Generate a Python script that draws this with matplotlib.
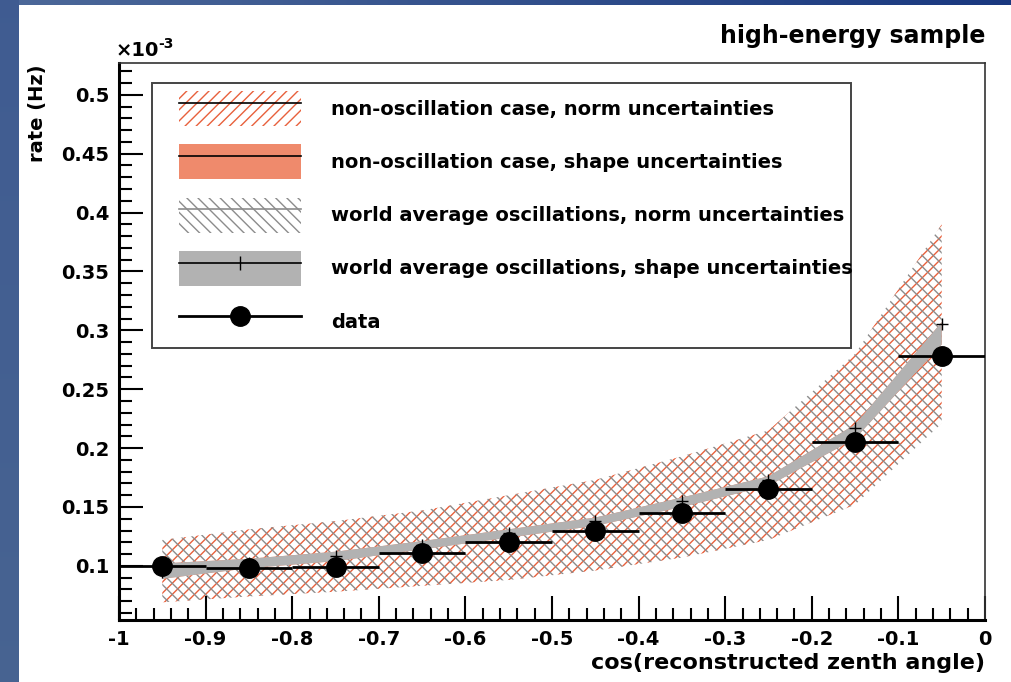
import numpy as np
import matplotlib
matplotlib.use("Agg")
import matplotlib.pyplot as plt
from matplotlib.patches import Patch, Rectangle
from matplotlib.lines import Line2D
from matplotlib.ticker import MultipleLocator

plt.rcParams['font.family'] = ['DejaVu Sans']
plt.rcParams['font.weight'] = 'bold'
plt.rcParams['hatch.linewidth'] = 1.0

# cos(zenith) bins, rates in units of 1e-3 Hz
bin_centers = [-0.95, -0.85, -0.75, -0.65, -0.55, -0.45, -0.35, -0.25, -0.15, -0.05]
bin_width = 0.1
data_rate = [0.100, 0.098, 0.099, 0.111, 0.120, 0.130, 0.145, 0.165, 0.205, 0.278]
data_err = [0.004, 0.004, 0.004, 0.004, 0.004, 0.004, 0.004, 0.005, 0.006, 0.007]

# expectation (world average oscillations) and its uncertainty bands
pred_rate = [0.095, 0.1025, 0.108, 0.118, 0.128, 0.138, 0.155, 0.173, 0.217, 0.305]
shape_hi = [0.102, 0.106, 0.112, 0.121, 0.131, 0.141, 0.158, 0.176, 0.220, 0.307]
shape_lo = [0.089, 0.098, 0.104, 0.114, 0.124, 0.134, 0.150, 0.168, 0.208, 0.288]
norm_hi = [0.122, 0.131, 0.138, 0.147, 0.160, 0.173, 0.193, 0.215, 0.280, 0.390]
norm_lo = [0.069, 0.074, 0.078, 0.083, 0.088, 0.096, 0.107, 0.122, 0.152, 0.221]

ORANGE = '#e8603c'
ORANGE_FILL = '#ef8a6c'
GRAY = '#8c8c8c'
GRAY_FILL = '#b2b2b2'

W, H = 1012, 682
fig = plt.figure(figsize=(W / 100, H / 100), dpi=100)

# slide-style background: blue frame on the left and top
bg = np.ones((H, W, 3))
xs = np.linspace(0, 1, W)[None, :, None]
top_left = np.array([0.30, 0.41, 0.60])
top_right = np.array([0.10, 0.22, 0.50])
bg[:5] = top_left + (top_right - top_left) * xs
ys = np.linspace(0, 1, H)[:, None, None]
side_top = np.array([0.25, 0.36, 0.57])
side_bot = np.array([0.28, 0.39, 0.57])
bg[:, :19] = side_top + (side_bot - side_top) * ys
bg_ax = fig.add_axes([0, 0, 1, 1], zorder=-10)
bg_ax.imshow(bg, aspect='auto', interpolation='bilinear')
bg_ax.axis('off')

ax = fig.add_axes([119 / W, 1 - 620 / H, (985 - 119) / W, (620 - 63) / H])
ax.set_xlim(-1, 0)
ax.set_ylim(0.054, 0.527)

# norm uncertainty bands (both hypotheses)
ax.fill_between(bin_centers, norm_lo, norm_hi, facecolor='none', edgecolor=ORANGE,
                hatch='///', linewidth=0, zorder=1)
ax.fill_between(bin_centers, norm_lo, norm_hi, facecolor='none', edgecolor=GRAY,
                hatch='\\\\\\', linewidth=0, zorder=1)
# shape uncertainty bands
ax.fill_between(bin_centers, shape_lo, shape_hi, facecolor=ORANGE_FILL, linewidth=0, zorder=2)
ax.fill_between(bin_centers, shape_lo, shape_hi, facecolor=GRAY_FILL, linewidth=0, zorder=3)
ax.plot(bin_centers, pred_rate, linestyle='none', marker='+', ms=9, mew=1.0,
        color='black', zorder=4)

ax.errorbar(bin_centers, data_rate, xerr=bin_width / 2, yerr=data_err, fmt='o',
            color='black', ms=14, elinewidth=2, capsize=0, zorder=5)

# ROOT-like axes
ax.xaxis.set_minor_locator(MultipleLocator(0.02))
ax.yaxis.set_minor_locator(MultipleLocator(0.01))
ax.tick_params(which='both', direction='in', top=False, right=False, width=1.5,
               labelsize=14, colors='black')
ax.tick_params(which='major', length=17, pad=7)
ax.tick_params(which='minor', length=9)
ax.set_xticks(np.arange(-1, 0.01, 0.1))
ax.set_xticklabels(['-1', '-0.9', '-0.8', '-0.7', '-0.6', '-0.5', '-0.4', '-0.3', '-0.2', '-0.1', '0'])
ax.set_yticks([0.1, 0.15, 0.2, 0.25, 0.3, 0.35, 0.4, 0.45, 0.5])
ax.set_yticklabels(['0.1', '0.15', '0.2', '0.25', '0.3', '0.35', '0.4', '0.45', '0.5'])
for tl in ax.get_xticklabels() + ax.get_yticklabels():
    tl.set_fontweight('bold')
ax.spines['left'].set_linewidth(2.2)
ax.spines['bottom'].set_linewidth(2.2)
ax.spines['top'].set_linewidth(1.2)
ax.spines['right'].set_linewidth(1.2)
ax.spines['top'].set_color('#333333')
ax.spines['right'].set_color('#333333')

fig.text(985 / W, 1 - 663 / H, 'cos(reconstructed zenth angle)', ha='right', va='center',
         fontsize=16, fontweight='bold')
fig.text(38 / W, 1 - 64 / H, 'rate (Hz)', ha='center', va='top', rotation=90,
         fontsize=14, fontweight='bold')
fig.text(116 / W, 1 - 50 / H, '\u00d710', ha='left', va='center', fontsize=14, fontweight='bold')
fig.text(158 / W, 1 - 44 / H, '-3', ha='left', va='center', fontsize=10, fontweight='bold')
fig.text(985 / W, 1 - 36 / H, 'high-energy sample', ha='right', va='center',
         fontsize=17, fontweight='bold')

# legend box
ax.add_patch(Rectangle((0.0381, 0.488), 0.845 - 0.0381, 0.964 - 0.488, transform=ax.transAxes,
                       facecolor='white', edgecolor='#444444', linewidth=1.4, zorder=6))
handles = [
    (Patch(facecolor='none', edgecolor=ORANGE, hatch='///', linewidth=0),
     Line2D([], [], color='black', lw=1.2)),
    (Patch(facecolor=ORANGE_FILL, linewidth=0), Line2D([], [], color='black', lw=1.2)),
    (Patch(facecolor='none', edgecolor=GRAY, hatch='\\\\\\', linewidth=0),
     Line2D([], [], color=GRAY, lw=1.2)),
    (Patch(facecolor=GRAY_FILL, linewidth=0),
     Line2D([], [], color='black', lw=1.2, marker='|', ms=10, mew=1.0)),
    Line2D([], [], color='black', lw=2, marker='o', ms=14),
]
labels = ['non-oscillation case, norm uncertainties',
          'non-oscillation case, shape uncertainties',
          'world average oscillations, norm uncertainties',
          'world average oscillations, shape uncertainties',
          'data']
leg = ax.legend(handles, labels, loc='upper left', bbox_to_anchor=(0.053, 0.974),
                frameon=False, handlelength=6.3, handleheight=2.38,
                labelspacing=0.95, handletextpad=1.55, borderpad=0.2,
                prop={'weight': 'bold', 'size': 14})
leg.set_zorder(7)

fig.savefig('out.png', dpi=100)
